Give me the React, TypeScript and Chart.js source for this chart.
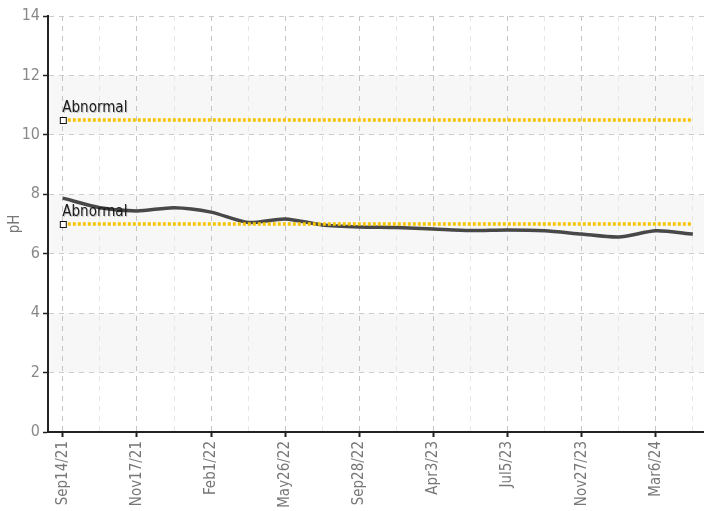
import React, { useEffect, useRef } from "react";
import { Chart, registerables } from "chart.js";

Chart.register(...registerables);

const majorLabels = ["Sep14/21", "Nov17/21", "Feb1/22", "May26/22", "Sep28/22", "Apr3/23", "Jul5/23", "Nov27/23", "Mar6/24"];
const phValues = [7.87, 7.55, 7.44, 7.55, 7.4, 7.05, 7.17, 6.97, 6.9, 6.88, 6.83, 6.78, 6.8, 6.77, 6.66, 6.56, 6.77, 6.66];
const upperLimit = 10.5;
const lowerLimit = 7.0;
const limitLabel = "Abnormal";
const bands = [[10, 12], [6, 8], [2, 4]];
const yTitle = "pH";

const FONT = "'Liberation Sans Narrow', 'DejaVu Sans Condensed', 'Roboto Condensed', 'Liberation Sans', sans-serif";

export default function App() {
  const ref = useRef<HTMLCanvasElement | null>(null);
  useEffect(() => {
    document.body.style.margin = "0";
    const canvas = ref.current!;
    const n = phValues.length;
    const lineData = phValues.map((v, i) => ({ x: i, y: v }));
    const upper = [{ x: 0, y: upperLimit }, { x: n - 1, y: upperLimit }];
    const lower = [{ x: 0, y: lowerLimit }, { x: n - 1, y: lowerLimit }];

    const bandPlugin = {
      id: "bands",
      beforeDraw(chart: any) {
        const { ctx, chartArea, scales } = chart;
        ctx.save();
        ctx.fillStyle = "#f7f7f7";
        for (const [a, b] of bands) {
          const y1 = scales.y.getPixelForValue(b);
          const y2 = scales.y.getPixelForValue(a);
          ctx.fillRect(chartArea.left, y1, chartArea.right - chartArea.left, y2 - y1);
        }
        ctx.restore();
      },
    };

    const labelPlugin = {
      id: "limitLabels",
      afterDatasetsDraw(chart: any) {
        const { ctx, scales } = chart;
        ctx.save();
        for (const v of [upperLimit, lowerLimit]) {
          const x = scales.x.getPixelForValue(0);
          const y = scales.y.getPixelForValue(v);
          ctx.fillStyle = "#ffffff";
          ctx.fillRect(x - 3, y - 3, 6, 6);
          ctx.strokeStyle = "#111";
          ctx.lineWidth = 1;
          ctx.strokeRect(x - 3 + 0.5, y - 3 + 0.5, 6, 6);
          ctx.font = "15px " + FONT;
          ctx.textAlign = "left";
          ctx.textBaseline = "bottom";
          ctx.fillStyle = "rgba(0,0,0,0.2)";
          ctx.fillText(limitLabel, x + 0.5, y - 3.5);
          ctx.fillStyle = "#1a1a1a";
          ctx.fillText(limitLabel, x - 0.5, y - 4.5);
        }
        ctx.restore();
      },
    };

    const chart = new Chart(canvas, {
      type: "line",
      data: {
        datasets: [
          {
            data: upper,
            borderColor: "#f6c400",
            borderWidth: 3.5,
            borderDash: [3, 2],
            pointRadius: 0,
            fill: false,
          },
          {
            data: lower,
            borderColor: "#f6c400",
            borderWidth: 3.5,
            borderDash: [3, 2],
            pointRadius: 0,
            fill: false,
          },
          {
            data: lineData,
            borderColor: "#484848",
            borderWidth: 3.5,
            pointRadius: 0,
            tension: 0.25,
            fill: false,
          },
        ],
      },
      plugins: [bandPlugin, labelPlugin],
      options: {
        responsive: false,
        animation: false,
        layout: { padding: { top: 16, right: 0, left: 0, bottom: 0 } },
        plugins: { legend: { display: false }, tooltip: { enabled: false } },
        scales: {
          x: {
            type: "linear",
            min: -0.4,
            max: n - 1 + 0.3,
            afterBuildTicks(scale: any) {
              scale.ticks = phValues.map((_, i) => ({ value: i }));
            },
            afterFit(scale: any) {
              scale.height = 79;
              scale.paddingRight = 0;
              scale.paddingLeft = 0;
            },
            border: { display: true, color: "#222", width: 2, dash: [5, 5] },
            grid: {
              color: (c: any) => (c.tick && c.tick.value % 2 === 0 ? "#c4c4c4" : "#e6e6e6"),
              tickColor: (c: any) => (c.tick && c.tick.value % 2 === 0 ? "#222" : "rgba(0,0,0,0)"),
              tickBorderDash: [],
              tickWidth: 2,
              tickLength: 5,
              lineWidth: 1,
            } as any,
            ticks: {
              autoSkip: false,
              maxRotation: 90,
              minRotation: 90,
              padding: 4,
              color: "#777",
              font: { family: FONT, size: 15 },
              callback: (v: any) => {
                const i = Number(v);
                return i % 2 === 0 ? majorLabels[i / 2] ?? "" : "";
              },
            },
          },
          y: {
            min: 0,
            max: 14,
            afterFit(scale: any) {
              scale.width = 48;
            },
            border: { display: true, color: "#222", width: 2, dash: [5, 5] },
            grid: {
              color: "#cccccc",
              tickColor: "#222",
              tickBorderDash: [],
              tickWidth: 1.5,
              tickLength: 5,
            } as any,
            ticks: {
              stepSize: 2,
              padding: 3,
              color: "#888",
              font: { family: FONT, size: 16 },
            },
            title: {
              display: true,
              text: yTitle,
              color: "#777",
              font: { family: FONT, size: 15 },
              padding: { top: 6, bottom: 0 },
            },
          },
        },
      },
    } as any);
    return () => chart.destroy();
  }, []);
  return (
    <div style={{ position: "absolute", left: 0, top: 0, width: 704, height: 511 }}>
      <canvas ref={ref} width={704} height={511} style={{ display: "block" }} />
    </div>
  );
}
